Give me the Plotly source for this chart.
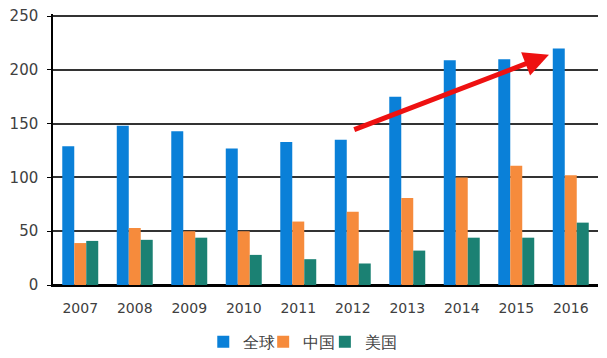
import plotly.graph_objects as go

years = ["2007", "2008", "2009", "2010", "2011", "2012", "2013", "2014", "2015", "2016"]
global_vals = [129, 148, 143, 127, 133, 135, 175, 209, 210, 220]
china_vals = [39, 53, 50, 50, 59, 68, 81, 100, 111, 102]
usa_vals = [41, 42, 44, 28, 24, 20, 32, 44, 44, 58]
y_ticks = [0, 50, 100, 150, 200, 250]
series_names = ["全球", "中国", "美国"]
colors = ["#0A80D8", "#F68B3C", "#1B8173"]
legend_ids = ["legend", "legend2", "legend3"]
legend_x = [0.326, 0.426, 0.529]

fig = go.Figure()
for name, vals, c, lg in zip(series_names, [global_vals, china_vals, usa_vals], colors, legend_ids):
    fig.add_trace(go.Bar(x=years, y=vals, name=name, legend=lg,
                         marker=dict(color=c, line=dict(width=0))))

fig.add_annotation(
    x=8.6, y=214, ax=5.0, ay=144, xref="x", yref="y", axref="x", ayref="y",
    text="", showarrow=True, arrowhead=2, arrowsize=1.0, arrowwidth=5, arrowcolor="#EE1111",
)

legend_style = dict(orientation="h", xref="container", yref="container",
                    xanchor="left", y=0.046, yanchor="middle",
                    font=dict(size=16, color="#404040"), bgcolor="rgba(0,0,0,0)")

fig.update_layout(
    width=599, height=350,
    margin=dict(l=45, r=9, t=6, b=73, autoexpand=False),
    paper_bgcolor="white", plot_bgcolor="white",
    barmode="group", bargap=0.34, bargroupgap=0,
    font=dict(family="DejaVu Sans", size=13, color="#404040"),
    showlegend=True,
    legend=dict(x=legend_x[0], **legend_style),
    legend2=dict(x=legend_x[1], **legend_style),
    legend3=dict(x=legend_x[2], **legend_style),
    xaxis=dict(showgrid=False, showline=True, linecolor="black", linewidth=1.5,
               ticks="", tickfont=dict(size=14), ticklabelstandoff=9, automargin=False),
    yaxis=dict(range=[0, 252], tickvals=y_ticks, showgrid=True, gridcolor="#333333", gridwidth=1.5,
               showline=True, linecolor="black", linewidth=1.5, ticks="outside", ticklen=4,
               tickcolor="black", zeroline=True, zerolinecolor="black", zerolinewidth=1.5,
               tickfont=dict(size=15), automargin=False, ticklabelstandoff=6,
               ticklabeloverflow="allow"),
)

fig.write_html("out.html")
